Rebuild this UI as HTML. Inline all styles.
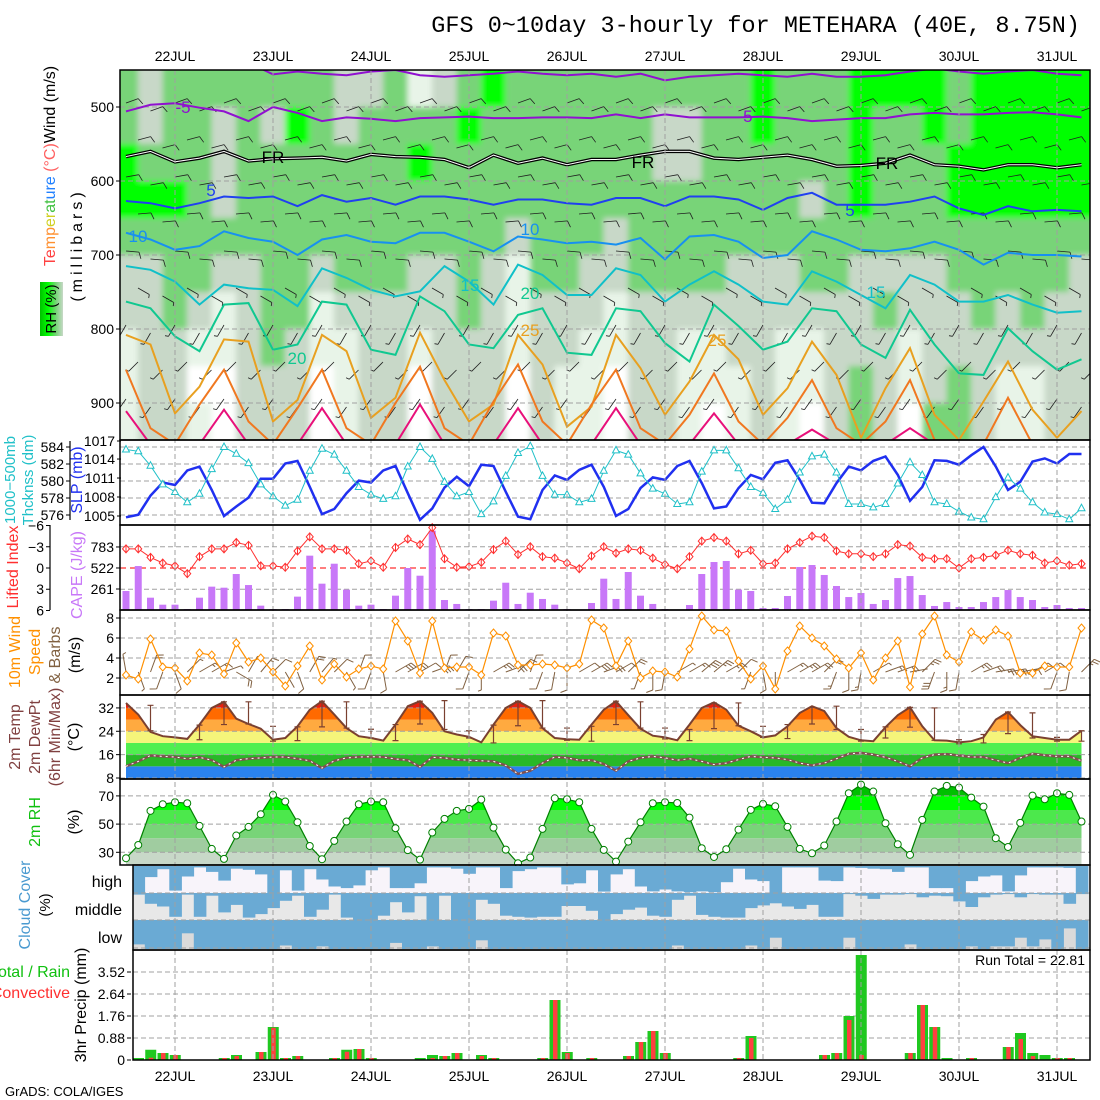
<!DOCTYPE html>
<html><head><meta charset="utf-8">
<style>
html,body{margin:0;padding:0;background:#fff;}
svg{display:block;font-family:"Liberation Sans",sans-serif;}
</style></head>
<body>
<svg id="chart" width="1100" height="1100" viewBox="0 0 1100 1100" xmlns="http://www.w3.org/2000/svg">
<defs>
<clipPath id="c1"><rect x="120" y="70" width="970" height="370"/></clipPath>
<filter id="blur" x="-5%" y="-10%" width="110%" height="120%"><feGaussianBlur stdDeviation="3"/></filter>
<linearGradient id="rhleg" x1="0" x2="1" y1="0" y2="0">
<stop offset="0" stop-color="#00c000"/><stop offset="0.35" stop-color="#00ff00"/><stop offset="0.7" stop-color="#78d478"/><stop offset="1" stop-color="#c8d8c8"/>
</linearGradient>
</defs>
<rect x="0" y="0" width="1100" height="1100" fill="#fff"/>
<g id="layer"></g>

<text x="1080" y="32" text-anchor="end" font-family="Liberation Mono, monospace" font-size="23.5">GFS 0~10day 3-hourly for METEHARA (40E, 8.75N)</text>

<rect x="40" y="282" width="23" height="54" fill="url(#rhleg)"/>
<text transform="rotate(-90,56,309)" x="56" y="309" text-anchor="middle" font-size="15">RH (%)</text>
<text transform="rotate(-90,55,166)" x="55" y="166" text-anchor="middle" font-size="16"><tspan fill="#ff4040">Te</tspan><tspan fill="#ff9030">mp</tspan><tspan fill="#d0d020">er</tspan><tspan fill="#40c040">at</tspan><tspan fill="#2080ff">ure</tspan><tspan fill="#ff6060"> (°C)</tspan><tspan fill="#000">Wind (m/s)</tspan></text>
<text transform="rotate(-90,82,245)" x="82" y="245" text-anchor="middle" font-size="16" letter-spacing="4">(millibars)</text>

<text transform="rotate(-90,15,480)" x="15" y="480" text-anchor="middle" font-size="15" fill="#20c0c8">1000−500mb</text>
<text transform="rotate(-90,33,480)" x="33" y="480" text-anchor="middle" font-size="15" fill="#20c0c8">Thcknss (dm)</text>
<text transform="rotate(-90,82,480)" x="82" y="480" text-anchor="middle" font-size="16" fill="#2030f0">SLP (mb)</text>
<text transform="rotate(-90,18,567)" x="18" y="567" text-anchor="middle" font-size="16" fill="#ff3030">Lifted Index</text>
<text transform="rotate(-90,82,575)" x="82" y="575" text-anchor="middle" font-size="16" fill="#c878f8">CAPE (J/kg)</text>
<text transform="rotate(-90,20,652)" x="20" y="652" text-anchor="middle" font-size="16" fill="#ff9000">10m Wind</text>
<text transform="rotate(-90,40,652)" x="40" y="652" text-anchor="middle" font-size="16" fill="#ff9000">Speed</text>
<text transform="rotate(-90,60,655)" x="60" y="655" text-anchor="middle" font-size="16" fill="#806040">&amp; Barbs</text>
<text transform="rotate(-90,80,655)" x="80" y="655" text-anchor="middle" font-size="16">(m/s)</text>
<text transform="rotate(-90,20,737)" x="20" y="737" text-anchor="middle" font-size="16" fill="#804040">2m Temp</text>
<text transform="rotate(-90,40,737)" x="40" y="737" text-anchor="middle" font-size="16" fill="#804040">2m DewPt</text>
<text transform="rotate(-90,60,737)" x="60" y="737" text-anchor="middle" font-size="16" fill="#804040">(6hr Min/Max)</text>
<text transform="rotate(-90,79,737)" x="79" y="737" text-anchor="middle" font-size="16">(°C)</text>
<text transform="rotate(-90,40,822)" x="40" y="822" text-anchor="middle" font-size="16" fill="#10c010">2m RH</text>
<text transform="rotate(-90,79,822)" x="79" y="822" text-anchor="middle" font-size="16">(%)</text>
<text transform="rotate(-90,30,905)" x="30" y="905" text-anchor="middle" font-size="16" fill="#4a9ad0">Cloud Cover</text>
<text transform="rotate(-90,50,905)" x="50" y="905" text-anchor="middle" font-size="15">(%)</text>
<text x="122" y="887" text-anchor="end" font-size="16">high</text>
<text x="122" y="915" text-anchor="end" font-size="16">middle</text>
<text x="122" y="943" text-anchor="end" font-size="16">low</text>
<text x="70" y="977" text-anchor="end" font-size="16" fill="#10c010">Total / Rain</text>
<text x="70" y="998" text-anchor="end" font-size="16" fill="#ff3030">Convective</text>
<text transform="rotate(-90,86,1005)" x="86" y="1005" text-anchor="middle" font-size="16">3hr Precip (mm)</text>
<text x="1085" y="965" text-anchor="end" font-size="14">Run Total = 22.81</text>
<text x="5" y="1096" font-size="13">GrADS: COLA/IGES</text>
</svg>
<script>
const dayLabels=['22JUL','23JUL','24JUL','25JUL','26JUL','27JUL','28JUL','29JUL','30JUL','31JUL'];
const pLevels=[475,525,575,625,675,725,775,825,875,925];
const rh475=[80,60,80,80,80,80,80,80,80,60,60,80,40,60,80,95,80,80,80,80,80,80,80,80,80,80,95,80,80,80,95,95,95,95,80,95,95,95,95,95];
const rh525=[80,60,80,80,60,80,60,95,80,60,80,80,80,80,95,80,80,80,80,80,80,80,60,60,80,80,95,80,80,80,95,80,80,95,80,95,95,95,95,95];
const rh575=[95,80,80,80,60,80,80,80,80,80,80,80,95,80,80,80,80,80,80,80,80,80,60,60,80,80,80,80,80,80,95,80,80,80,95,95,95,95,95,95];
const rh625=[95,95,95,80,60,80,80,80,80,80,80,80,80,80,80,80,80,80,80,80,80,80,80,80,80,80,80,80,60,80,95,80,80,80,95,95,95,95,95,95];
const rh675=[80,80,80,80,80,80,80,80,80,80,80,80,80,80,80,80,60,80,80,80,60,80,80,80,80,80,80,80,80,80,80,80,80,80,80,80,80,80,80,80];
const rh725=[60,60,80,80,60,60,80,80,60,80,80,80,60,60,80,60,40,80,80,60,60,80,80,80,80,60,60,60,80,80,60,60,60,60,80,80,80,80,80,60];
const rh775=[60,60,80,60,40,60,80,80,40,60,60,60,60,60,80,60,40,60,60,60,40,60,60,60,60,60,60,60,60,60,60,80,60,60,60,80,60,80,60,60];
const rh825=[40,60,60,40,40,60,80,60,40,40,60,60,40,60,60,60,40,60,60,40,40,60,60,40,40,60,60,40,40,60,60,60,40,60,60,60,60,60,60,60];
const rh875=[40,60,60,20,20,60,60,60,20,40,60,60,20,60,60,60,20,60,40,40,20,60,60,40,40,40,60,40,40,60,80,60,40,60,80,60,40,40,60,60];
const rh925=[40,60,60,40,20,60,60,60,20,40,60,60,20,60,60,60,20,60,40,40,20,60,60,40,20,40,60,40,20,60,80,60,20,80,80,60,40,40,60,60];
const rhGrid=[rh475,rh525,rh575,rh625,rh675,rh725,rh775,rh825,rh875,rh925];
const cM10=[440,440,440,440,440,440,456,452,455,457,452,450,457,459,457,455,452,455,457,455,459,455,464,459,457,455,457,459,455,459,459,457,452,448,452,455,452,450,455,457];
const cM5=[506,497,495,501,506,519,500,508,519,514,516,519,515,514,513,515,515,514,514,515,510,515,510,514,514,514,513,515,519,517,515,515,510,508,510,510,508,507,510,514];
const cFR=[567,560,574,569,560,573,570,569,568,573,564,567,568,571,582,565,576,569,578,571,571,565,560,560,569,571,568,565,571,580,579,576,565,578,580,585,578,578,582,578];
const c5=[627,630,637,630,621,623,621,634,619,628,623,632,621,621,625,632,625,625,630,632,623,623,634,621,621,625,639,623,616,632,632,632,628,621,637,646,634,641,639,641];
const c10=[670,679,693,688,668,677,682,700,679,673,682,684,670,670,682,695,675,679,684,682,686,677,706,675,673,682,704,700,668,679,693,695,691,682,693,713,697,700,700,702];
const c15=[715,720,736,767,740,745,747,769,718,731,747,756,749,715,736,767,713,727,754,754,718,727,763,740,722,740,763,767,722,736,754,772,727,740,763,763,754,767,778,776];
const c20=[763,772,810,830,767,765,828,821,763,767,828,835,756,776,821,826,781,772,832,835,772,776,819,844,767,796,828,817,772,776,821,839,774,821,860,862,799,830,855,841];
const c25=[808,821,914,878,814,817,925,896,808,830,920,893,805,869,925,902,808,848,932,905,808,853,916,871,808,841,916,880,817,862,947,880,826,916,950,898,844,909,947,911];
const c30=[855,934,956,902,855,925,956,907,855,934,956,900,851,934,956,898,848,925,956,902,855,934,956,916,860,925,956,920,869,934,956,925,869,950,956,956,893,956,956,956];
const c35=[911,956,956,956,909,956,956,956,907,956,956,956,902,956,956,956,907,956,956,956,907,956,956,956,914,956,956,956,936,956,956,956,934,956,956,956,956,956,956,956];
const barbDirAloft=[70,75,80,85,95,120,210,225,215];
const barbSpdAloft=[6,6,6,5,5,4,3,3,3];
const slp=[1004.8,1005.2,1008.2,1010.3,1009.9,1012.2,1012.8,1009.1,1005.0,1006.5,1007.9,1010.9,1010.9,1013.3,1013.7,1009.6,1005.3,1006.1,1008.6,1010.6,1010.3,1012.2,1012.9,1008.6,1004.4,1006.2,1009.5,1011.2,1009.7,1013.1,1012.9,1008.8,1004.9,1004.5,1009.1,1011.4,1010.7,1012.3,1013.1,1009.6,1005.0,1006.1,1009.4,1011.1,1010.7,1012.9,1013.7,1010.2,1006.2,1006.5,1009.4,1011.5,1010.8,1013.4,1013.8,1010.7,1007.1,1007.0,1010.2,1012.8,1012.2,1013.7,1014.4,1011.5,1007.4,1009.6,1013.8,1013.7,1013.1,1014.6,1015.9,1012.8,1009.1,1010.4,1013.6,1014.1,1013.3,1014.8,1014.8];
const thk=[583.7,583.5,581.8,579.6,578.7,577.5,578.5,581.4,584.0,583.2,582.1,579.6,578.2,577.1,577.8,581.2,583.8,583.1,581.2,579.3,578.4,577.9,578.2,581.7,584.0,582.6,579.9,578.2,578.7,576.1,577.6,580.6,583.3,584.1,580.6,578.4,578.4,577.5,577.9,581.2,583.6,583.1,580.9,579.1,578.5,577.3,577.5,581.1,583.6,583.6,581.5,579.3,578.6,576.7,577.8,581.0,582.9,583.1,581.0,577.3,577.3,576.9,577.3,579.7,582.2,580.7,577.5,577.3,576.4,575.7,575.5,578.1,580.4,579.1,577.5,576.3,576.1,575.5,576.8];
const li=[-2.7,-2.7,-1.5,-0.7,-0.3,0.8,-1.6,-2.7,-2.7,-3.6,-3.2,-0.3,-0.3,-0.1,-2.4,-4.4,-2.7,-2.7,-2.5,-0.6,-1.0,-0.1,-2.9,-4.1,-3.3,-5.7,-1.3,-0.1,-0.2,-0.8,-2.6,-3.8,-1.9,-3.0,-1.6,-1.4,-0.7,0.1,-1.7,-3.0,-2.1,-2.7,-2.5,-1.4,-0.5,0.1,-1.6,-3.8,-4.3,-3.8,-2.0,-2.5,-0.6,-0.7,-2.7,-3.6,-4.5,-4.3,-2.4,-2.0,-2.0,-1.6,-2.0,-3.3,-3.1,-1.5,-1.3,-1.3,0,-1.3,-1.5,-1.8,-2.5,-2.0,-1.8,-0.7,-1.0,-0.4,-0.6];
const cape=[236,546,153,66,66,12,153,290,277,447,310,54,12,12,166,675,327,575,253,54,66,12,178,522,426,985,124,75,12,12,116,339,75,215,137,66,12,0,87,389,137,472,178,75,12,0,62,447,596,609,253,236,25,25,174,534,559,435,298,161,211,75,124,397,422,186,50,99,37,37,99,161,248,161,124,37,62,25,25];
const wspd=[2.3,1.9,5.9,3.1,3.0,1.7,4.5,4.3,2.4,5.5,3.6,4.0,2.6,1.2,3.2,5.2,1.8,3.4,2.1,2.9,3.2,2.9,7.7,5.7,2.5,7.7,3.0,3.1,3.1,2.3,6.5,6.2,3.3,3.3,3.4,3.3,3.0,3.4,7.8,7.0,3.2,5.7,2.0,2.7,2.6,2.1,4.9,8.2,6.8,6.7,3.7,1.9,3.2,0.9,4.7,7.2,6.0,5.2,3.9,3.0,4.5,1.8,4.0,5.7,1.1,6.4,8.2,4.3,3.6,6.6,5.8,6.8,6.2,2.5,2.5,3.2,3.1,3.1,7.0];
const wdir=[350,160,20,200,160,45,60,60,70,120,30,40,45,150,160,30,40,45,150,20,200,170,60,60,60,70,20,30,200,180,60,70,45,20,200,190,180,60,60,70,60,45,200,180,190,60,60,50,50,60,45,200,170,180,60,60,60,45,200,180,190,60,70,70,80,45,200,180,190,60,70,80,80,80,60,60,200,190,45];
const temp=[33.7,29.7,23.8,22.3,21.9,21.4,26.3,32.0,34.1,28.3,26.5,24.9,21.1,21.7,25.7,31.4,34.3,29.7,25.1,22.3,21.7,20.8,26.3,32.6,34.3,30.3,24.0,22.9,22.1,20.2,26.3,32.0,34.3,32.0,25.1,21.7,21.3,21.1,26.3,31.4,34.3,29.5,24.9,22.5,21.9,20.9,26.3,32.0,33.9,31.4,25.9,24.0,21.9,22.6,25.7,30.3,32.6,30.9,25.1,22.1,20.9,20.6,25.4,29.5,32.2,25.7,20.9,20.8,20.2,20.6,21.9,28.0,30.6,26.1,22.3,21.7,21.1,21.1,24.2];
const dewp=[12.0,13.7,15.7,15.4,15.2,14.6,15.1,14.1,11.8,14.1,14.6,14.9,15.2,15.2,14.6,13.9,11.4,13.9,14.9,15.2,15.3,15.2,14.5,14.1,11.8,15.1,14.9,14.3,14.1,13.9,13.7,12.3,9.4,10.5,13.1,15.2,14.9,14.1,14.1,12.8,10.5,13.7,14.9,15.4,14.9,14.1,14.6,13.7,12.6,13.1,14.3,15.4,15.1,14.9,14.3,13.1,12.3,13.1,14.6,16.3,16.6,16.0,15.1,13.7,12.0,14.9,16.0,16.2,15.7,15.2,15.2,14.1,13.1,14.9,16.3,15.8,15.4,15.4,13.9];
const tmax6=[null,32.9,null,26.1,34.1,34.1,25.7,25.5,34.3,34.1,24.7,26.3,34.3,34.5,24.2,26.1,34.3,34.5,25.1,25.7,34.3,34.1,25.1,24.6,33.7,33.7,25.7,26.3,32.2,32.6,24.6,25.5,32.2,32.0,21.1,22.9,30.6,30.3,21.9,24.2];
const tmin6=[null,24.2,null,21.1,26.3,26.5,20.6,20.8,25.5,25.1,21.7,20.8,26.5,24.6,21.7,20.0,25.9,25.1,20.9,20.6,26.3,25.1,21.4,20.8,24.9,25.9,21.9,21.5,26.5,24.6,20.6,21.7,25.4,20.9,19.7,20.0,23.2,21.7,20.6,20.6];
const rh2m=[25.8,35.2,59.4,64.1,65.5,64.8,48.7,32.4,25.3,41.9,48.0,57.0,70.7,66.0,51.3,34.5,25.1,38.1,51.8,64.1,66.0,65.5,47.1,31.5,24.8,44.0,53.7,59.4,60.8,67.4,47.5,31.9,22.2,26.3,46.6,68.3,67.6,65.5,46.6,31.7,23.4,37.6,51.3,64.8,65.5,65.0,54.6,32.9,26.7,32.2,46.1,60.1,64.3,62.7,48.0,32.4,29.3,34.8,51.8,71.9,78.0,73.1,50.6,35.7,28.2,53.0,73.1,77.1,75.9,68.8,62.4,40.0,33.8,50.9,70.2,67.6,71.9,70.7,51.8];
const cloudHigh=[100,41,12,91,39,5,22,54,10,14,31,100,16,91,12,50,76,82,72,16,5,82,82,64,5,5,10,29,5,5,82,19,12,5,5,68,64,16,95,31,12,76,94,87,94,97,94,97,60,10,50,56,100,5,5,5,54,56,5,7,10,12,22,5,5,82,82,100,56,39,35,94,35,5,5,5,7,100];
const cloudMid=[6,40,50,88,6,88,10,72,44,91,78,56,29,10,88,62,6,91,100,100,84,34,72,12,100,10,100,100,25,40,84,88,91,88,88,48,48,66,100,78,62,54,84,88,25,10,81,88,91,91,56,46,38,50,59,44,88,88,4,10,22,6,6,4,16,10,12,31,52,16,6,4,16,4,6,6,40,4];
const cloudLow=[84,100,100,100,46,100,100,100,100,100,100,100,88,100,100,91,100,100,100,100,100,79,100,100,91,100,100,100,70,100,100,100,100,100,100,100,100,100,100,100,100,100,100,100,88,100,100,100,100,100,88,100,61,100,100,100,100,100,61,100,100,100,100,84,100,100,100,100,91,100,91,91,61,91,67,100,29,100];
const precipTotal=[0.08,0.41,0.28,0.2,0,0,0,0.08,0.2,0,0.32,1.32,0.08,0.16,0,0,0.08,0.41,0.44,0.08,0,0,0,0.08,0.2,0.16,0.28,0,0.2,0.08,0,0,0,0.08,2.4,0.32,0,0.08,0,0,0.16,0.72,1.16,0.28,0,0,0,0,0,0.08,0.96,0,0,0,0,0,0.2,0.28,1.76,4.2,0,0,0,0.28,2.2,1.32,0.08,0,0.08,0,0,0.52,1.08,0.28,0.2,0.08,0.08,0];
const precipConv=[0,0.09,0.28,0.2,0,0,0,0.08,0.16,0,0.32,1.29,0.08,0.16,0,0,0.08,0.33,0.44,0.08,0,0,0,0,0.08,0.16,0.28,0,0.16,0.08,0,0,0,0.08,2.4,0.28,0,0.08,0,0,0.16,0.72,1.16,0.28,0,0,0,0,0,0.08,0.88,0,0,0,0,0,0.2,0.28,1.6,0.2,0,0,0,0.28,2.2,1.32,0,0,0.08,0,0,0.52,0.84,0.16,0,0.08,0.08,0];
const pTicks=[500,600,700,800,900];
const thkTicks=[584,582,580,578,576];
const slpTicks=[1017,1014,1011,1008,1005];
const liTicks=[-6,-3,0,3,6];
const capeTicks=[783,522,261];
const spdTicks=[8,6,4,2];
const tTicks=[32,24,16,8];
const rhTicks=[70,50,30];
const prTicks=[3.52,2.64,1.76,0.88,0];

const X=i=>126+12.25*i;
const XC=k=>132.5+12.25*k;
const dayX=d=>175+98*d;
const yP=p=>70+(p-450)*0.74;
const ySLP=v=>516-(v-1005)*6.33;
const yTH=v=>515-(v-576)*8.5;
const yLI=v=>568+v*7.08;
const yCAPE=v=>610-v*0.0805;
const ySpd=v=>678-(v-2)*10;
const yT=v=>778-(v-8)*2.92;
const yRH=v=>852.3-(v-30)*1.41;
const yPr=v=>1060-v*25;

const NS='http://www.w3.org/2000/svg';
const root=document.getElementById('layer');
const defs=document.querySelector('#chart defs');
function mk(tag,attrs,parent){const e=document.createElementNS(NS,tag);for(const k in attrs)e.setAttribute(k,attrs[k]);(parent||root).appendChild(e);return e;}
function pts(arr,fx,fy){return arr.map((v,i)=>fx(i).toFixed(1)+','+fy(v).toFixed(1)).join(' ');}

const hmClip=mk('g',{'clip-path':'url(#c1)'});


const hm=mk('g',{filter:'url(#blur)'},hmClip);
function rhColor(v){return v>=90?'#00ff00':v>=70?'#78d478':v>=50?'#c8d8c8':v>=30?'#e8f4e8':'#ffffff';}
rhGrid.forEach((row,lv)=>{
  const p0=lv===0?400:pLevels[lv]-25, p1=lv===pLevels.length-1?1000:pLevels[lv]+25;
  row.forEach((v,j)=>{
    const c=mk('rect',{x:(X(2*j)-12.5).toFixed(1),y:yP(p0).toFixed(1),width:25.5,height:(yP(p1)-yP(p0)+0.5).toFixed(1),fill:rhColor(v)},hm);
    
    
  });
});
function hgrid(y,x0){const l=mk('line',{x1:x0||120,x2:1090,y1:y,y2:y,stroke:'#a0a0a0','stroke-dasharray':'5,3','stroke-width':1});

}
pTicks.forEach(p=>hgrid(yP(p)));
function barb(x,y,dir,spd,L,color,parent,name,w){
  const a=dir*Math.PI/180, ex=x+Math.sin(a)*L, ey=y-Math.cos(a)*L;
  let d='M'+x.toFixed(1)+' '+y.toFixed(1)+'L'+ex.toFixed(1)+' '+ey.toFixed(1);
  const fa=a+Math.PI/2.6; const n=Math.floor(spd/5), half=(spd%5)>=2.5;
  const tot=n+(half?1:0);
  for(let f=0;f!==tot;f++){
    const bx=x+Math.sin(a)*(L-f*3), by=y-Math.cos(a)*(L-f*3);
    const fl=(f>=n)?3.5:7;
    d+='M'+bx.toFixed(1)+' '+by.toFixed(1)+'l'+(Math.sin(fa)*fl).toFixed(1)+' '+(-Math.cos(fa)*fl).toFixed(1);
  }
  const b=mk('path',{d:d,stroke:color,'stroke-width':w||0.8,fill:'none'},parent);
  
  
}
const bg=mk('g',{'clip-path':'url(#c1)'});


barbDirAloft.forEach((d,l)=>{
  for(let j=0;j!==40;j++){barb(X(2*j)+(l%2)*12,yP(500+50*l)+((j%2)?4:-4),d,barbSpdAloft[l],13,'#202020',bg,'wind-barb',0.8);}
});
const contours=[[cM10,'#9010d0'],[cM5,'#9010d0'],[c5,'#2040f0'],[c10,'#1890f0'],[c15,'#10c0c8'],[c20,'#10c890'],[c25,'#e8a020'],[c30,'#f07820'],[c35,'#e8107a']];
const cg=mk('g',{'clip-path':'url(#c1)'});


contours.forEach(c=>{
  const pl=mk('polyline',{points:pts(c[0],j=>X(2*j),yP),fill:'none',stroke:c[1],'stroke-width':2},cg);
  
  
});
const fr1=mk('polyline',{points:pts(cFR,j=>X(2*j),yP),fill:'none',stroke:'#000','stroke-width':3.5},cg);


const fr2=mk('polyline',{points:pts(cFR,j=>X(2*j),yP),fill:'none',stroke:'#fff','stroke-width':1},cg);


const clabels=[['-5',183,113,'#9010d0'],['-5',745,122,'#9010d0'],['FR',273,163,'#000'],['FR',643,168,'#000'],['FR',887,169,'#000'],['5',211,196,'#2040f0'],['5',850,216,'#2040f0'],['10',138,242,'#1890f0'],['10',530,235,'#1890f0'],['15',470,291,'#10c0c8'],['15',876,298,'#10c0c8'],['20',530,299,'#10c890'],['20',297,364,'#10c890'],['25',530,336,'#e8a020'],['25',717,346,'#e8a020']];
clabels.forEach(c=>{
  const t=mk('text',{x:c[1],y:c[2],'text-anchor':'middle','font-size':17,fill:c[3]});
  t.textContent=c[0];
  
  
});

thkTicks.forEach(v=>hgrid(yTH(v)));
const slpLine=mk('polyline',{points:pts(slp,X,ySLP),fill:'none',stroke:'#2030f0','stroke-width':2.5});


const thkLine=mk('polyline',{points:pts(thk,X,yTH),fill:'none',stroke:'#20c0c8','stroke-width':1});


thk.forEach((v,i)=>{const x=X(i),y=yTH(v);
  const m=mk('path',{d:`M${x} ${y-4}L${x+3.5} ${y+2.5}L${x-3.5} ${y+2.5}Z`,fill:'#fff',stroke:'#20c0c8','stroke-width':1});
  
  });

[-3,3].forEach(v=>hgrid(yLI(v)));
const zl=mk('line',{x1:120,x2:1090,y1:yLI(0),y2:yLI(0),stroke:'#ff3030','stroke-dasharray':'6,4','stroke-width':1.2});


cape.forEach((v,i)=>{
  const r=mk('rect',{x:X(i)-3.5,y:yCAPE(v),width:7,height:Math.max(0,610-yCAPE(v)),fill:'#c878f8'});
  
  
});
const liLine=mk('polyline',{points:pts(li,X,yLI),fill:'none',stroke:'#ff3030','stroke-width':1});


li.forEach((v,i)=>{const x=X(i),y=yLI(v);
  const m=mk('path',{d:`M${x} ${y-4}L${x+3.5} ${y}L${x} ${y+4}L${x-3.5} ${y}ZM${x} ${y-4}V${y+4}`,fill:'#fff',stroke:'#ff3030','stroke-width':1});
  
  });

spdTicks.forEach(v=>hgrid(ySpd(v)));
wdir.forEach((d,i)=>{ barb(X(i),672,d,wspd[i]*2,18,'#806040',root,'surface-wind-barb',1); });
const spLine=mk('polyline',{points:pts(wspd,X,ySpd),fill:'none',stroke:'#ff9000','stroke-width':1.2});


wspd.forEach((v,i)=>{const x=X(i),y=ySpd(v);
  const m=mk('path',{d:`M${x} ${y-4}L${x+3.5} ${y}L${x} ${y+4}L${x-3.5} ${y}Z`,fill:'#fff',stroke:'#ff9000','stroke-width':1});
  
  });

const tcp=mk('clipPath',{id:'tclip'},defs);
mk('polygon',{points:pts(temp,X,yT)+` ${X(temp.length-1)},779 ${X(0)},779`},tcp);
const tBands=[[-10,12,'#2a82ee'],[12,16,'#28b828'],[16,20,'#50ef50'],[20,24,'#f5f57a'],[24,28,'#ffaa40'],[28,32,'#ff6a00'],[32,50,'#e82010']];
const tg=mk('g',{'clip-path':'url(#tclip)'});


tBands.forEach(b=>{const r=mk('rect',{x:120,width:970,y:yT(b[1]),height:yT(b[0])-yT(b[1]),fill:b[2]},tg);
  
  });
tTicks.forEach(v=>hgrid(yT(v)));
tmax6.forEach((v,j)=>{ if(v===null)return; const x=X(2*j);
  const e=mk('path',{d:`M${x} ${yT(v)}V${yT(tmin6[j])}M${x-3} ${yT(v)}h6M${x-3} ${yT(tmin6[j])}h6`,stroke:'#7a4030','stroke-width':1.2,fill:'none'});
  
  });
const tl=mk('polyline',{points:pts(temp,X,yT),fill:'none',stroke:'#7a4030','stroke-width':2});


const dl=mk('polyline',{points:pts(dewp,X,yT),fill:'none',stroke:'#805050','stroke-width':2.5});


const dl2=mk('polyline',{points:pts(dewp,X,yT),fill:'none',stroke:'#ffffff','stroke-width':1,'stroke-dasharray':'2,4'});



const rcp=mk('clipPath',{id:'rclip'},defs);
mk('polygon',{points:pts(rh2m,X,yRH)+` ${X(rh2m.length-1)},865 ${X(0)},865`},rcp);
const rBands=[[0,30,'#c8d8c8'],[30,40,'#a0cca0'],[40,50,'#78d478'],[50,60,'#4ce84c'],[60,70,'#00ff00'],[70,100,'#00c000']];
const rg=mk('g',{'clip-path':'url(#rclip)'});


rBands.forEach(b=>{const r=mk('rect',{x:120,width:970,y:yRH(b[1]),height:yRH(b[0])-yRH(b[1]),fill:b[2]},rg);
  
  });
rhTicks.forEach(v=>hgrid(yRH(v)));
const rl=mk('polyline',{points:pts(rh2m,X,yRH),fill:'none',stroke:'#008000','stroke-width':1.2});


rh2m.forEach((v,i)=>{const m=mk('circle',{cx:X(i),cy:yRH(v),r:3.5,fill:'#fff',stroke:'#008000','stroke-width':1});
  
  });

const strips=[[cloudHigh,866,893,'#f8f4fa','high'],[cloudMid,893,920,'#e8e8e8','middle'],[cloudLow,920,949,'#dadada','low']];
strips.forEach(s=>{
  const bgr=mk('rect',{x:133,y:s[1],width:957,height:s[2]-s[1],fill:s[3]});
  
  
  s[0].forEach((v,k)=>{
    const h=(s[2]-s[1])*v/100;
    const r=mk('rect',{x:XC(k).toFixed(1),y:s[1],width:12.6,height:h.toFixed(1),fill:'#6aaad4'});
    
    
  });
});
[893,920,948].forEach(y=>hgrid(y,133));

prTicks.slice(0,4).forEach(v=>hgrid(yPr(v),133));
precipTotal.forEach((v,k)=>{ if(v<=0)return;
  const r=mk('rect',{x:XC(k)+0.5,y:yPr(v),width:11,height:1060-yPr(v),fill:'#20c820'});
  
  });
precipConv.forEach((v,k)=>{ if(v<=0)return;
  const r=mk('rect',{x:XC(k)+4,y:yPr(v),width:4.5,height:1060-yPr(v),fill:'#ff4040'});
  
  });

dayLabels.forEach((d,k)=>{
  const l=mk('line',{x1:dayX(k),x2:dayX(k),y1:70,y2:1060,stroke:'#a0a0a0','stroke-dasharray':'5,3','stroke-width':1});
  
  
  const t1=mk('text',{x:dayX(k),y:61,'text-anchor':'middle','font-size':14});
  t1.textContent=d;
  
  
  const t2=mk('text',{x:dayX(k),y:1081,'text-anchor':'middle','font-size':14});
  t2.textContent=d;
  
  
});

const frames=[[120,70,440],[120,440,525],[120,525,610],[120,610,695],[120,695,779],[120,779,865],[133,865,950],[133,950,1060]];
frames.forEach(f=>{const r=mk('rect',{x:f[0],y:f[1],width:1090-f[0],height:f[2]-f[1],fill:'none',stroke:'#000','stroke-width':1.5});
  
  });
const ax1=mk('path',{d:'M70 441V520M50 525V610',stroke:'#000','stroke-width':1.2,fill:'none'});


function tick(txt,x,y,color){const t=mk('text',{x:x,y:y+5,'text-anchor':'end','font-size':14,fill:color||'#000'});t.textContent=txt;
  
  
  const l=mk('line',{x1:x+2,x2:x+6,y1:y,y2:y,stroke:'#000','stroke-width':1});
  
  }
pTicks.forEach(p=>tick(String(p),114,yP(p)));
tick('1017',115,441);
thkTicks.forEach(v=>tick(String(v),64,yTH(v)));
slpTicks.slice(1).forEach(v=>tick(String(v),115,ySLP(v)));
liTicks.forEach(v=>tick(v<0?'−'+Math.abs(v):String(v),44,yLI(v)));
capeTicks.forEach(v=>tick(String(v),114,yCAPE(v)));
spdTicks.forEach(v=>tick(String(v),114,ySpd(v)));
tTicks.forEach(v=>tick(String(v),114,yT(v)));
rhTicks.forEach(v=>tick(String(v),114,yRH(v)));
prTicks.forEach(v=>tick(String(v),125,yPr(v)));
</script>
</body></html>
